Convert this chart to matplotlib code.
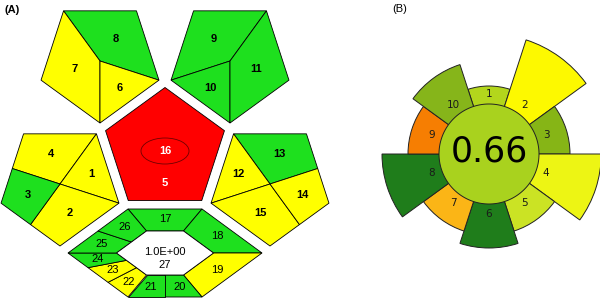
import numpy as np
import matplotlib.pyplot as plt
from matplotlib.patches import Polygon, Ellipse

# ---- (A) ComplexGAPI: level of fields 1-26, plus the quantity in field 27 ----
gapi_levels = ['Y', 'Y', 'G', 'Y', 'R', 'Y', 'Y', 'G', 'G', 'G', 'G', 'Y', 'G',
               'Y', 'Y', 'R', 'G', 'G', 'Y', 'G', 'G', 'Y', 'Y', 'G', 'G', 'G']
gapi_palette = {'G': '#1ee01e', 'Y': '#ffff00', 'R': '#ff0000'}
field27_value = '1.0E+00'
field27_label = '27'

# ---- (B) AGREE: criteria 1-10, weights, colours and the final score ----
agree_labels = ['1', '2', '3', '4', '5', '6', '7', '8', '9', '10']
agree_weights = [1, 5, 2, 4.4, 2, 3, 2, 4, 2, 3]
agree_colors = ['#b3d61c', '#fdf900', '#86b516', '#edf514', '#cbe324',
                '#1f7d1b', '#fbb516', '#1f7d1b', '#f67e02', '#86b51a']
agree_score = 0.66
agree_score_color = '#a9d21e'


def pentagon(cx, cy, r, down):
    start = 90 if down else -90
    ang = np.deg2rad(start + 72 * np.arange(5))
    return np.c_[cx + r * np.cos(ang), cy + r * np.sin(ang)]


def centroid(pts):
    x, y = pts[:, 0], pts[:, 1]
    x1, y1 = np.roll(x, -1), np.roll(y, -1)
    cr = x * y1 - x1 * y
    a = cr.sum() / 2
    return (x + x1) @ cr / (6 * a), (y + y1) @ cr / (6 * a)


def mid(p, q, t=0.5):
    return p + (q - p) * t


def field(ax, pts, n, bold=True, show=True):
    pts = np.asarray(pts)
    ax.add_patch(Polygon(pts, closed=True, facecolor=gapi_palette[gapi_levels[n - 1]],
                         edgecolor='black', lw=0.6))
    if show:
        cx, cy = centroid(pts)
        ax.text(cx, cy, str(n), ha='center', va='center', fontsize=8,
                family='Liberation Sans', weight='bold' if bold else 'normal')


fig = plt.figure(figsize=(6.0, 2.98), dpi=100)
ax = fig.add_axes([0, 0, 1, 1])
ax.set_xlim(0, 600)
ax.set_ylim(298, 0)
ax.axis('off')

R = 62
# top-left pentagon: fields 6, 7, 8
B, L, TL, TR, Rt = pentagon(100, 61, R, True)
C = np.array([100, 61])
field(ax, [TL, TR, Rt, C], 8)
field(ax, [TL, C, B, L], 7)
field(ax, [C, Rt, B], 6)

# top-right pentagon: fields 9, 10, 11
B, L, TL, TR, Rt = pentagon(230, 61, R, True)
C = np.array([230, 61])
field(ax, [TL, TR, C, L], 9)
field(ax, [L, C, B], 10)
field(ax, [C, TR, Rt, B], 11)

# left pentagon: fields 1-4
B, L, TL, TR, Rt = pentagon(60, 184, R, True)
C = np.array([60, 184])
m1, m2 = mid(L, TL), mid(B, L)
field(ax, [TL, TR, C, m1], 4)
field(ax, [TR, Rt, C], 1)
field(ax, [C, Rt, B, m2], 2)
field(ax, [m1, C, m2, L], 3)

# right pentagon: fields 12-15
B, L, TL, TR, Rt = pentagon(270, 184, R, True)
C = np.array([270, 184])
m3, m4 = mid(TR, Rt), mid(Rt, B)
field(ax, [TL, TR, m3, C], 13)
field(ax, [TL, C, L], 12)
field(ax, [L, C, m4, B], 15)
field(ax, [C, m3, Rt, m4], 14)

# centre pentagon: fields 5 and 16
field(ax, pentagon(165, 150, 62.5, False), 5, show=False)
ax.add_patch(Ellipse((165, 151), 48, 26, facecolor=gapi_palette[gapi_levels[15]],
                     edgecolor='#700000', lw=0.6))
ax.text(165, 151, '16', ha='center', va='center', fontsize=8, color='white',
        family='Liberation Sans', weight='bold')
ax.text(165, 183, '5', ha='center', va='center', fontsize=8, color='white',
        family='Liberation Sans', weight='bold')

# bottom hexagon: fields 17-26, field 27 in the middle
hc = np.array([165, 253])
shape = np.array([[-37, -44], [37, -44], [97, 0], [37, 44], [-37, 44], [-97, 0]])
oTL, oTR, oR, oBR, oBL, oL = hc + shape
iTL, iTR, iR, iBR, iBL, iL = hc + 0.5 * shape
oBm, iBm = mid(oBR, oBL), mid(iBR, iBL)
field(ax, [oTL, oTR, iTR, iTL], 17, bold=False)
field(ax, [oTR, oR, iR, iTR], 18, bold=False)
field(ax, [oR, oBR, iBR, iR], 19, bold=False)
field(ax, [oBm, oBR, iBR, iBm], 20, bold=False)
field(ax, [oBL, oBm, iBm, iBL], 21, bold=False)
o1, o2 = mid(oL, oBL, 1 / 3), mid(oL, oBL, 2 / 3)
i1, i2 = mid(iL, iBL, 1 / 3), mid(iL, iBL, 2 / 3)
field(ax, [o2, oBL, iBL, i2], 22, bold=False)
field(ax, [o1, o2, i2, i1], 23, bold=False)
field(ax, [oL, o1, i1, iL], 24, bold=False)
oM, iM = mid(oTL, oL), mid(iTL, iL)
field(ax, [oM, oL, iL, iM], 25, bold=False)
field(ax, [oTL, oM, iM, iTL], 26, bold=False)
ax.add_patch(Polygon(hc + 0.5 * shape, closed=True, facecolor='white',
                     edgecolor='black', lw=0.6))
ax.text(165, 252, field27_value, ha='center', va='center', fontsize=8,
        family='Liberation Sans')
ax.text(165, 265, field27_label, ha='center', va='center', fontsize=8,
        family='Liberation Sans')

ax.text(12, 10, '(A)', ha='center', va='center', fontsize=8,
        family='Liberation Sans', weight='bold')
ax.text(400, 9, '(B)', ha='center', va='center', fontsize=8,
        family='Liberation Sans')

# ---- (B) AGREE pictogram on polar axes (radius in pixels) ----
cx, cy, rmax = 489, 154, 125
pax = fig.add_axes([(cx - rmax) / 600, (298 - cy - rmax) / 298,
                    2 * rmax / 600, 2 * rmax / 298], projection='polar')
pax.set_theta_zero_location('N')
pax.set_theta_direction(-1)
pax.set_ylim(0, rmax)
pax.set_axis_off()

theta = np.deg2rad(36 * np.arange(len(agree_labels)))
radius = 55 + 13 * np.array(agree_weights)
pax.bar(theta, radius, width=np.deg2rad(36), bottom=0, color=agree_colors,
        edgecolor='#222222', linewidth=0.7, align='center', zorder=1)
for t, lab in zip(theta, agree_labels):
    pax.text(t, 60, lab, ha='center', va='center', fontsize=7.5,
             color='#1a1a1a', zorder=4)

ring = np.linspace(0, 2 * np.pi, 361)
pax.fill(ring, np.full_like(ring, 50), facecolor=agree_score_color,
         edgecolor='#222222', linewidth=0.7, zorder=3)
pax.text(0, 2, f'{agree_score:.2f}', ha='center', va='center', fontsize=25,
         color='black', zorder=4)

fig.savefig('out.png', dpi=100)
